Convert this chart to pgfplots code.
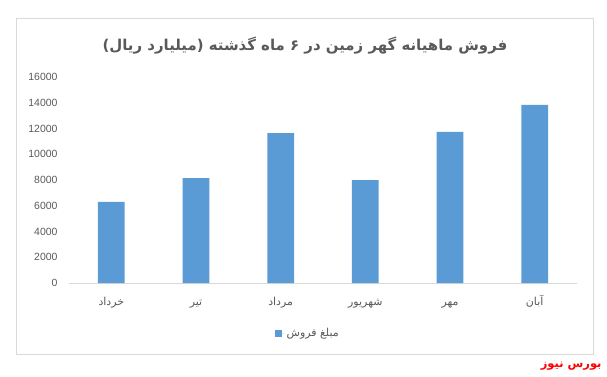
\documentclass[border=0pt]{standalone}
\usepackage{pgfplots}
\pgfplotsset{compat=1.18}
\usepackage{fontspec}
\setmainfont{Liberation Sans}
\newfontfamily\arabicfont[Script=Arabic]{DejaVu Sans}
\TeXXeTstate=1
\newcommand{\fa}[1]{{\arabicfont\beginR #1\endR}}
\definecolor{barblue}{HTML}{5B9BD5}
\definecolor{txtgray}{HTML}{595959}
\definecolor{framegray}{HTML}{D9D9D9}
\begin{document}
\begin{tikzpicture}[x=1bp,y=1bp]
\path (0,0) rectangle (607,376);
\draw[framegray, line width=0.8bp] (16,22) rectangle (593,358);
\node[txtgray, font=\fontsize{15}{18}\selectfont\bfseries] at (305,330) {\fa{فروش ماهیانه گهر زمین در ۶ ماه گذشته (میلیارد ریال)}};
\begin{axis}[
  at={(69bp,93bp)}, anchor=south west,
  scale only axis, width=508bp, height=206bp,
  xmin=-0.5, xmax=5.5, ymin=0, ymax=16000,
  axis lines*=left,
  y axis line style={draw=none},
  x axis line style={draw=framegray, line width=1bp},
  major tick length=0,
  xtick={0,1,2,3,4,5},
  xticklabels={\fa{خرداد},\fa{تیر},\fa{مرداد},\fa{شهریور},\fa{مهر},\fa{آبان}},
  ytick={0,2000,...,16000},
  scaled y ticks=false,
  /pgf/number format/.cd, 1000 sep={}, assume math mode=true, /pgfplots/.cd,
  yticklabel style={txtgray, font=\fontsize{10.5}{12}\selectfont, xshift=-8bp},
  xticklabel style={txtgray, font=\fontsize{11}{12}\selectfont, anchor=base, yshift=-22bp},
  ybar, bar width=26.7bp,
  legend style={at={(0.47,-0.243)}, anchor=center, draw=none, font=\fontsize{11}{12}\selectfont, text=txtgray},
  legend image code/.code={\fill[barblue] (0bp,-3.5bp) rectangle (7bp,3.5bp); \path (0bp,0bp) -- (10bp,0bp);},
]
\addplot[fill=barblue, draw=none] coordinates {(0,6300) (1,8150) (2,11650) (3,8000) (4,11730) (5,13830)};
\addlegendentry{\fa{مبلغ فروش}}
\end{axis}
\node[red, font=\fontsize{11.5}{14}\selectfont\bfseries, anchor=east] at (605,10) {\fa{بورس نیوز}};
\end{tikzpicture}
\end{document}
